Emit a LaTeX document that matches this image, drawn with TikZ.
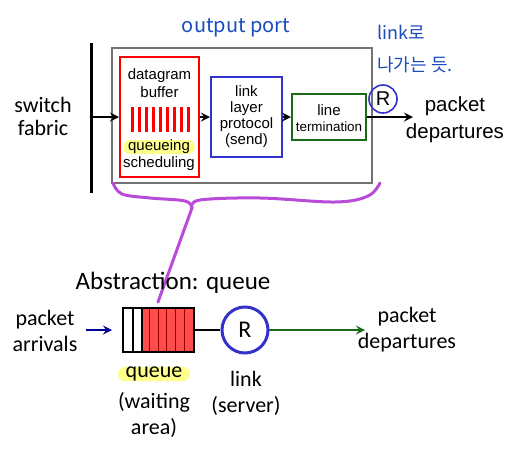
\documentclass[tikz,border=0pt]{standalone}
\usepackage{fontspec}
\setmainfont{Carlito}
\newfontfamily\arial{Liberation Sans}
\newfontfamily\kr{Noto Sans CJK KR}
\usetikzlibrary{arrows.meta}

\definecolor{portgray}{gray}{0.45}
\definecolor{protoblue}{rgb}{0.2,0.2,0.8}
\definecolor{termgreen}{rgb}{0.1,0.42,0.1}
\definecolor{qred}{rgb}{1,0.3,0.3}
\definecolor{hlyellow}{rgb}{1,1,0.55}
\definecolor{penblue}{rgb}{0.1,0.3,0.75}
\definecolor{penpurple}{rgb}{0.72,0.3,0.85}

\begin{document}
\begin{tikzpicture}[x=0.5pt, y=-0.5pt, >=stealth, every node/.style={inner sep=0pt},
    small/.style={font=\arial\fontsize{7.5}{8}\selectfont, align=center},
    big/.style={font=\fontsize{11}{13}\selectfont, align=center},
    hl/.style={fill=hlyellow, rounded corners=3.5pt, minimum width=36pt, minimum height=7pt}]
	\useasboundingbox (0,0) rectangle (516,456);
	
	% 输出端口
	\node[draw=portgray, line width=1pt, minimum width=130pt, minimum height=67.5pt] (port) at (242,115.5) {};
	\coordinate (fabtop) at (92,43);
	\coordinate (fabbot) at (92,193);
	\coordinate (fab) at (92,117);
	\draw[line width=1.5pt] (fabtop) -- (fabbot);
	\node[big, font=\fontsize{11}{11.5}\selectfont] (fabric) at (43,116.5) {switch\\fabric};
	
	\node[draw=red, line width=1pt, minimum width=39.5pt, minimum height=60pt] (buf) at (159.5,117) {};
	\node[draw=protoblue, line width=1pt, minimum width=35.5pt, minimum height=40pt] (proto) at (246.5,117) {};
	\node[draw=termgreen, line width=1pt, minimum width=37pt, minimum height=23pt] (term) at (329,117) {};
	
	\foreach \i in {0,...,8}
		\fill[red] ({131+\i*7},107) rectangle ++(3.5,25);
	
	\node[small, font=\arial\fontsize{7.5}{9}\selectfont] (bufl) at (159.5,83) {datagram\\buffer};
	\node[small, hl] (qing) at (159,147) {queueing};
	\node[small] (sched) at (159,164) {scheduling};
	\node[small] (protol) at (246.5,117) {link\\layer\\protocol\\(send)};
	\node[small] (terml) at (329,118) {line\\{\fontsize{6.7}{8}\selectfont termination}};
	
	\coordinate (out) at (413,117);
	\draw[->, line width=1pt] (fab) -- (buf.west);
	\draw[->, line width=1pt] (buf.east) -- (proto.west);
	\draw[->, line width=1pt] (proto.east) -- (term.west);
	\draw[->, line width=1pt] (term.east) -- (out);
	
	\node[draw=protoblue, circle, line width=0.8pt, minimum size=14pt, font=\arial\fontsize{10}{12}\selectfont] (rtop) at (383,99) {R};
	\node[align=center, font=\arial\fontsize{10.25}{13.5}\selectfont] (deptop) at (455,119.5) {packet\\departures};
	
	% 手写批注
	\node[text=penblue, font=\kr\fontsize{10}{12}\selectfont] (outport) at (236,28) {output port};
	\node[text=penblue, font=\kr\fontsize{9}{16}\selectfont, align=left, anchor=west] (note) at (377,49) {link로\\나가는 듯.};
	\coordinate (cusp) at (192,208);
	\coordinate (tail) at (158,302);
	\draw[penpurple, line width=1.5pt, line cap=round] plot[smooth, tension=0.6] coordinates {(113,183) (122,194) (150,198) (185,201) (cusp)};
	\draw[penpurple, line width=1.5pt, line cap=round] plot[smooth, tension=0.6] coordinates {(cusp) (200,200) (260,198) (335,202) (368,196) (380,183)};
	\draw[penpurple, line width=1.5pt, line cap=round] (cusp) -- (tail);
	
	% 抽象: 队列
	\node[font=\fontsize{12.5}{15}\selectfont] (abs) at (173,283) {Abstraction: queue};
	\fill[qred] (142,308) rectangle (194,352);
	\foreach \x in {150,158.5,167,175.5,184.5}
		\draw[red!60!black, line width=0.5pt] (\x,308) -- (\x,352);
	\draw[line width=0.6pt] (133,308) -- (133,352);
	\draw[line width=0.6pt] (142,308) -- (142,352);
	\node[draw, line width=1pt, minimum width=35.5pt, minimum height=22pt] (q) at (158.5,330) {};
	\node[draw=protoblue, circle, line width=1.5pt, minimum size=23pt, font=\fontsize{12}{14}\selectfont] (srv) at (245,330) {R};
	
	\coordinate (arr) at (86,330);
	\coordinate (dep) at (365,330);
	\draw[line width=1pt] (q.east) -- (srv.west);
	\draw[->, blue!60!black, line width=1pt, shorten >=5pt] (arr) -- (q.west);
	\draw[->, termgreen, line width=1pt] (srv.east) -- (dep);
	
	\node[big] (arrl) at (45,331) {packet\\arrivals};
	\node[big] (depb) at (407,330) {packet\\departures};
	\node[big, hl] (ql) at (154,374) {queue};
	\node[big] (wait) at (154,415) {(waiting\\area)};
	\node[big] (lnk) at (246,393) {link\\(server)};
\end{tikzpicture}
\end{document}
